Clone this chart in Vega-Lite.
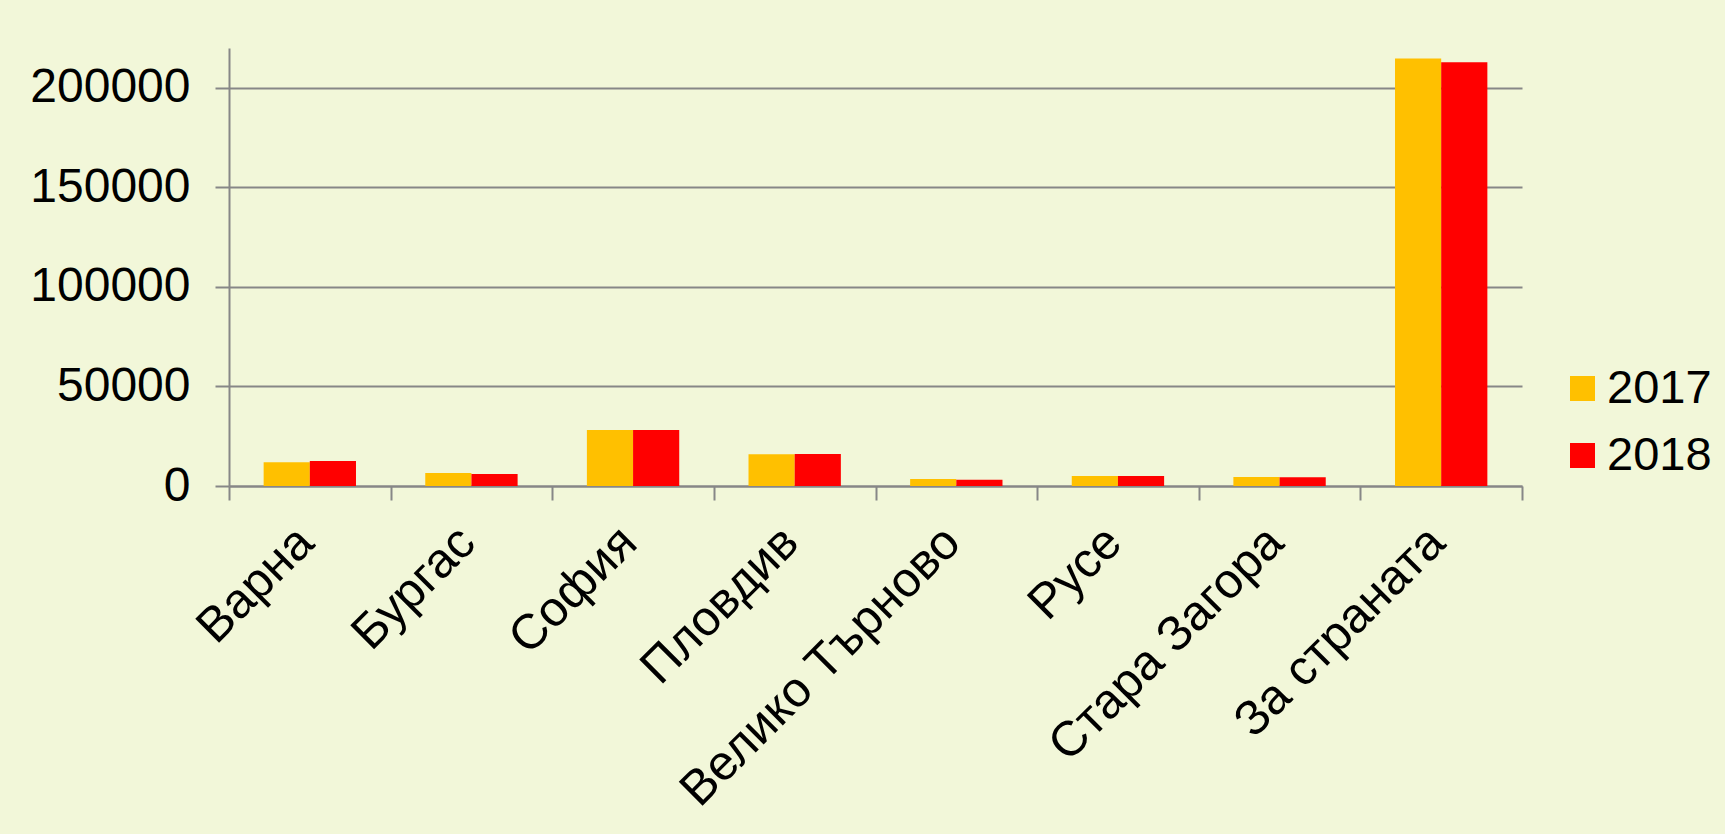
{
  "$schema": "https://vega.github.io/schema/vega-lite/v6.json",
  "autosize": "none",
  "width": 1293,
  "height": 438,
  "padding": {"left": 229, "top": 48, "right": 203, "bottom": 348},
  "background": "#F2F7D9",
  "config": {
    "font": "Liberation Sans",
    "view": {"stroke": null},
    "axis": {"labelFont": "Liberation Sans", "labelColor": "#000000", "domainColor": "#878787", "domainWidth": 2, "tickColor": "#878787", "tickWidth": 2, "gridColor": "#878787", "gridWidth": 2}
  },
  "data": {
    "values": [
      {"region": "Варна", "year": "2017", "value": 11900},
      {"region": "Варна", "year": "2018", "value": 12550},
      {"region": "Бургас", "year": "2017", "value": 6550},
      {"region": "Бургас", "year": "2018", "value": 6050},
      {"region": "София", "year": "2017", "value": 28100},
      {"region": "София", "year": "2018", "value": 28100},
      {"region": "Пловдив", "year": "2017", "value": 15900},
      {"region": "Пловдив", "year": "2018", "value": 16100},
      {"region": "Велико Търново", "year": "2017", "value": 3500},
      {"region": "Велико Търново", "year": "2018", "value": 3200},
      {"region": "Русе", "year": "2017", "value": 5050},
      {"region": "Русе", "year": "2018", "value": 5050},
      {"region": "Стара Загора", "year": "2017", "value": 4500},
      {"region": "Стара Загора", "year": "2018", "value": 4350},
      {"region": "За страната", "year": "2017", "value": 214700},
      {"region": "За страната", "year": "2018", "value": 212900}
    ]
  },
  "mark": {"type": "bar"},
  "encoding": {
    "x": {
      "field": "region",
      "type": "nominal",
      "sort": null,
      "scale": {"paddingInner": 0, "paddingOuter": 0},
      "axis": {
        "title": null,
        "labelAngle": -45,
        "labelAlign": "right",
        "labelBaseline": "bottom",
        "labelFontSize": 49,
        "labelPadding": 52,
        "labelOffset": 13,
        "tickSize": 14,
        "tickBand": "extent",
        "grid": false,
        "labelOverlap": false,
        "labelLimit": 0
      }
    },
    "xOffset": {
      "field": "year",
      "type": "nominal",
      "scale": {"paddingInner": 0, "paddingOuter": 0.75}
    },
    "y": {
      "field": "value",
      "type": "quantitative",
      "scale": {"domain": [0, 220000], "nice": false},
      "axis": {
        "title": null,
        "values": [0, 50000, 100000, 150000, 200000],
        "format": "d",
        "labelFontSize": 48,
        "labelPadding": 25,
        "tickSize": 14,
        "grid": true,
        "labelBaseline": "middle"
      }
    },
    "color": {
      "field": "year",
      "type": "nominal",
      "scale": {"domain": ["2017", "2018"], "range": ["#FFC000", "#FF0000"]},
      "legend": {
        "title": null,
        "orient": "none",
        "legendX": 1330,
        "legendY": 317,
        "symbolType": "square",
        "symbolSize": 625,
        "symbolStrokeWidth": 0,
        "labelFontSize": 47,
        "labelOffset": 1,
        "rowPadding": 19,
        "padding": 0,
        "labelColor": "#000000"
      }
    }
  }
}
